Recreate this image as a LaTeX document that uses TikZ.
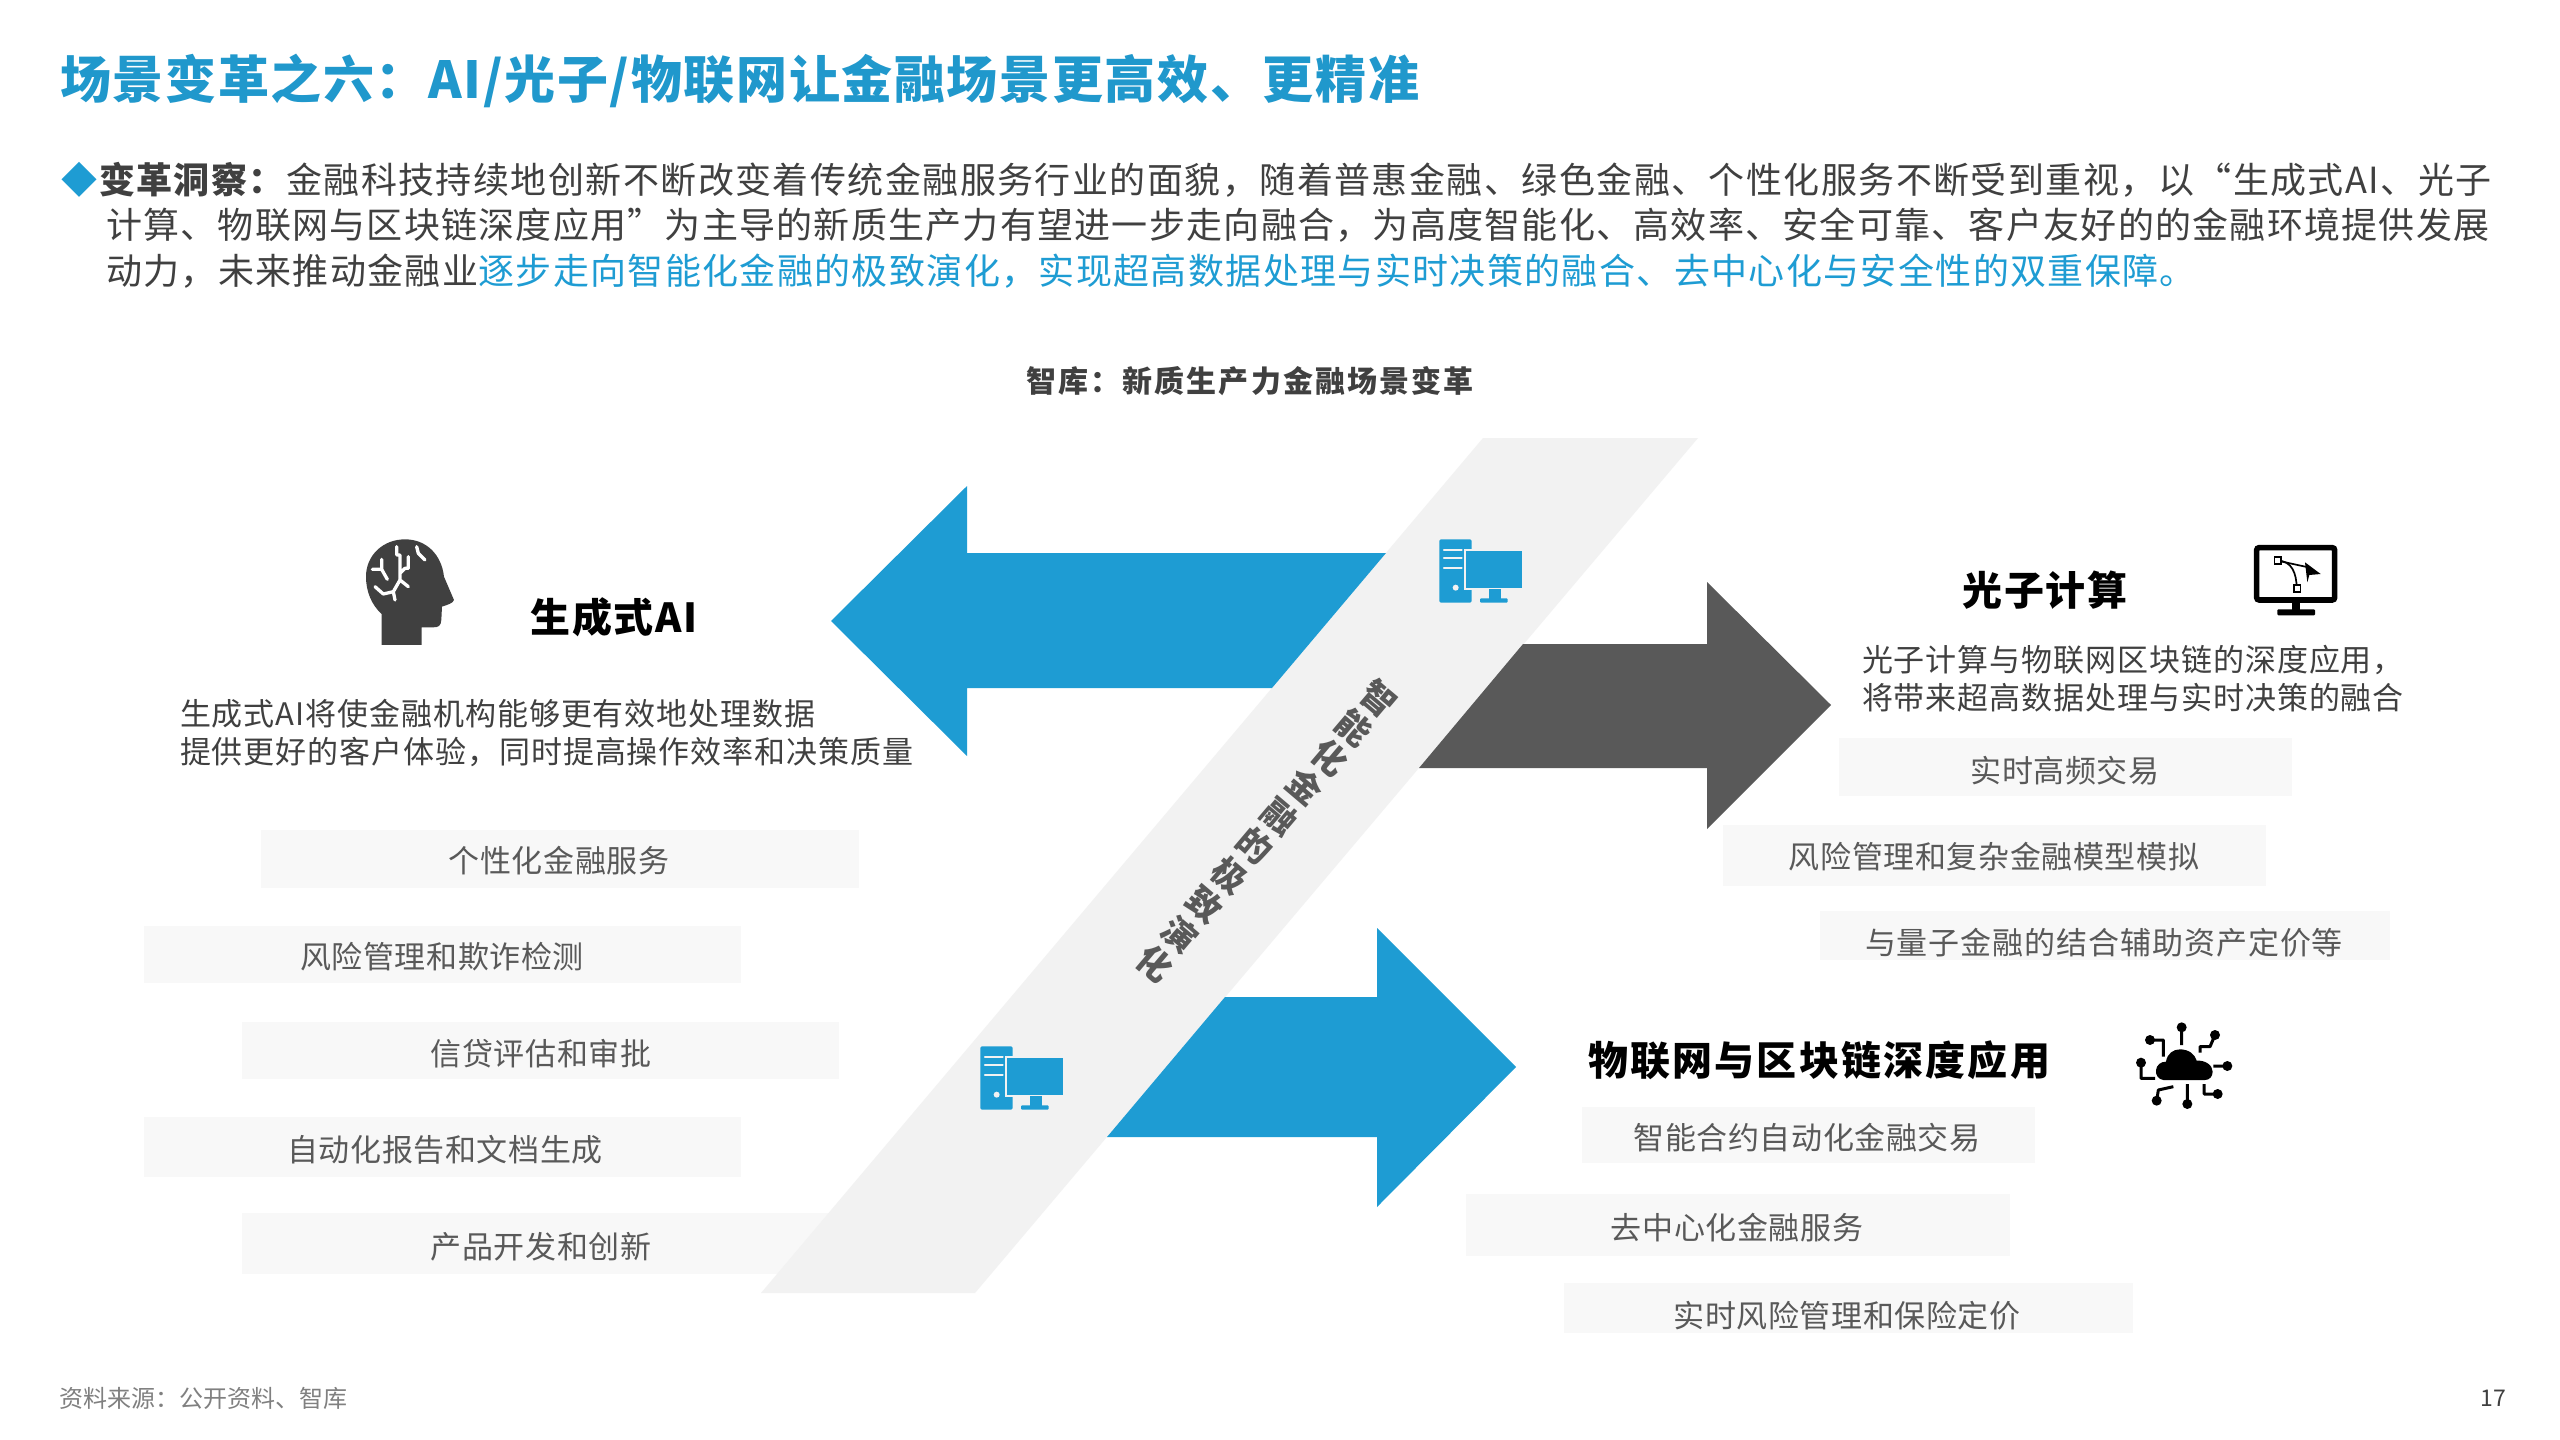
\documentclass[tikz,border=0pt]{standalone}
\usepackage{fontspec}
\setmainfont{Noto Sans CJK SC}
\definecolor{brandblue}{HTML}{1E9CD3}
\definecolor{titleblue}{HTML}{2098CC}
\definecolor{darkarrow}{HTML}{595959}
\definecolor{bandgrey}{HTML}{F2F2F2}
\definecolor{boxgrey}{HTML}{F8F8F8}
\definecolor{bodytext}{HTML}{404040}
\definecolor{itemtext}{HTML}{595959}
\definecolor{headicon}{HTML}{404040}
\newcommand{\fsz}[2]{\fontsize{#1}{#2}\selectfont}
\newcommand{\lsp}[1]{\addfontfeature{LetterSpace=#1}}
\tikzset{
  txt/.style={inner sep=0pt,outer sep=0pt,font=\fsz{31}{36}\lsp{2},text=itemtext,anchor=center},
  para/.style={txt,text=bodytext,anchor=west,font=\fsz{31}{36}\lsp{3}},
  lead/.style={inner sep=0pt,outer sep=0pt,anchor=west,text=bodytext},
  headg/.style={txt,text=black,font=\fsz{40}{46}\bfseries\lsp{4}},
  itembox/.style={fill=boxgrey,draw=none}
}
\newcommand{\compicon}{%
  \fill[brandblue,rounded corners=1.5pt] (58,58) rectangle (155,248);
  \draw[bandgrey,line width=2.2pt,line cap=round] (72,90) -- (125,90) (72,115) -- (125,115) (72,143) -- (125,143);
  \fill[bandgrey] (107,203) circle (9);
  \fill[brandblue,draw=bandgrey,line width=1.7pt] (134,90) rectangle (308,208);
  \fill[brandblue] (207,206) rectangle (243,236);
  \fill[brandblue,rounded corners=1pt] (180,235) rectangle (263,248);
}
\begin{document}
\begin{tikzpicture}[x=1pt,y=-1pt]
\useasboundingbox (0,0) rectangle (2560,1440);
\fill[white] (0,0) rectangle (2560,1440);

% title and lead
\node[inner sep=0pt,anchor=west,text=titleblue,font=\fsz{51}{60}\bfseries\lsp{3.2}] (title) at (60,81) {场景变革之六：AI/光子/物联网让金融场景更高效、更精准};
\node[inner sep=0pt,text=brandblue,font=\fsz{36}{42}] (bullet) at (79,180) {◆};
\node[lead,font=\fsz{36}{42}\lsp{4}] (l1) at (99,180) {\textbf{变革洞察：}金融科技持续地创新不断改变着传统金融服务行业的面貌，随着普惠金融、绿色金融、个性化服务不断受到重视，以“生成式AI、光子};
\node[lead,font=\fsz{36}{42}\lsp{3.5}] (l2) at (106,225) {计算、物联网与区块链深度应用”为主导的新质生产力有望进一步走向融合，为高度智能化、高效率、安全可靠、客户友好的的金融环境提供发展};
\node[lead,font=\fsz{36}{42}\lsp{3.8}] (l3) at (106,271) {动力，未来推动金融业\textcolor{brandblue}{逐步走向智能化金融的极致演化，实现超高数据处理与实时决策的融合、去中心化与安全性的双重保障。}};
\node[inner sep=0pt,text=bodytext,font=\fsz{30}{36}\bfseries\lsp{7}] (sub) at (1250,381) {智库：新质生产力金融场景变革};

% item boxes
\fill[itembox] (261,830) rectangle (859,888);
\fill[itembox] (144,926) rectangle (741,983);
\fill[itembox] (242,1022) rectangle (839,1079);
\fill[itembox] (144,1117) rectangle (741,1177);
\fill[itembox] (242,1213) rectangle (839,1274);
\fill[itembox] (1839,738) rectangle (2292,796);
\fill[itembox] (1723,825) rectangle (2266,886);
\fill[itembox] (1820,911) rectangle (2390,960);
\fill[itembox] (1582,1107) rectangle (2035,1163);
\fill[itembox] (1466,1194) rectangle (2010,1256);
\fill[itembox] (1564,1283) rectangle (2133,1333);

% band and arrows
\fill[bandgrey] (1483,438) -- (1698,438) -- (975,1293) -- (761,1293) -- cycle;
\fill[brandblue] (831,621) -- (967,486) -- (967,553) -- (1386,553) -- (1272,688) -- (967,688) -- (967,756) -- cycle;
\fill[darkarrow] (1831,705) -- (1707,582) -- (1707,644) -- (1523,644) -- (1419,768) -- (1707,768) -- (1707,829) -- cycle;
\fill[brandblue] (1516,1067) -- (1377,928) -- (1377,997) -- (1225,997) -- (1107,1137) -- (1377,1137) -- (1377,1207) -- cycle;

% band label
\node[inner sep=0pt,rotate=-40.3,align=center,text=darkarrow,font=\fsz{34}{38.6}\bfseries] (bandtxt) at (1267,831) {智\\能\\化\\金\\融\\的\\极\\致\\演\\化};

% computer icons
\begin{scope}[shift={(1420,520)},x=.3333pt,y=-.3333pt]\compicon\end{scope}
\begin{scope}[shift={(961,1027)},x=.3333pt,y=-.3333pt]\compicon\end{scope}

% head icon
\begin{scope}[shift={(340,520)},x=.3333pt,y=-.3333pt]
\fill[headicon] (125,375) -- (125,282) .. controls (95,255) and (78,215) .. (78,170)
  .. controls (78,105) and (130,58) .. (195,58)
  .. controls (260,58) and (305,105) .. (312,170)
  -- (342,240) .. controls (340,250) and (320,255) .. (306,260)
  -- (304,300) .. controls (303,318) and (295,322) .. (280,322) -- (245,322) -- (245,375) -- cycle;
\draw[white,line width=3.3pt,line cap=round,line join=round]
  (97,148) -- (125,148) -- (125,118) (125,148) -- (142,178)
  (170,80) -- (170,105) -- (180,105) -- (180,160) -- (195,145) -- (205,145) -- (205,110)
  (180,160) -- (180,180) -- (205,200) (180,180) -- (160,215) -- (165,240)
  (160,215) -- (130,222) -- (105,200)
  (230,80) -- (235,100) -- (255,120);
\end{scope}

% monitor icon
\begin{scope}[shift={(2250,530)},x=.3333pt,y=-.3333pt]
\draw[black,line width=5.6pt,rounded corners=2.5pt] (20,53) rectangle (254,210);
\fill[black] (125,215) rectangle (150,242);
\fill[black,rounded corners=1pt] (82,238) rectangle (195,256);
\draw[black,line width=1.7pt] (83,92) .. controls (125,92) and (140,130) .. (140,175);
\draw[black,line width=1.7pt] (83,92) -- (175,112);
\fill[black] (165,97) -- (212,132) -- (178,135) -- (172,157) -- cycle;
\draw[black,line width=1.7pt,fill=white] (73,82) rectangle (93,102);
\draw[black,line width=1.7pt,fill=white] (131,165) rectangle (151,185);
\end{scope}

% cloud icon
\begin{scope}[shift={(2130,1010)},x=.3333pt,y=-.3333pt]
\fill[black] (100,210) .. controls (85,208) and (76,195) .. (78,180)
  .. controls (80,165) and (92,155) .. (108,155)
  .. controls (112,130) and (130,118) .. (150,118)
  .. controls (175,118) and (195,132) .. (200,152)
  .. controls (225,150) and (248,165) .. (248,185)
  .. controls (248,200) and (238,210) .. (225,210) -- cycle;
\draw[black,line width=3pt,line join=round]
  (155,52) -- (155,105)
  (60,90) -- (100,90) -- (100,140)
  (255,75) -- (240,110) -- (210,110) -- (210,128)
  (292,168) -- (250,168)
  (33,158) -- (33,205) -- (75,205)
  (80,272) -- (85,240) -- (130,230)
  (172,282) -- (172,222)
  (263,252) -- (222,252) -- (222,222);
\fill[black] (155,52) circle (15) (60,90) circle (15) (255,75) circle (15) (292,168) circle (15)
  (33,158) circle (15) (80,272) circle (15) (172,282) circle (15) (263,252) circle (15);
\end{scope}

% headings
\node[headg] (h1) at (614,617) {生成式AI};
\node[headg] (h2) at (2045,590) {光子计算};
\node[headg,font=\fsz{40}{46}\bfseries\lsp{5.5}] (h3) at (1819,1060) {物联网与区块链深度应用};

% paragraphs
\node[para] (p1a) at (180,714) {生成式AI将使金融机构能够更有效地处理数据};
\node[para] (p1b) at (180,752) {提供更好的客户体验，同时提高操作效率和决策质量};
\node[para] (p2a) at (1862,660) {光子计算与物联网区块链的深度应用，};
\node[para] (p2b) at (1862,698) {将带来超高数据处理与实时决策的融合};

% items
\node[txt] (a1) at (559,861) {个性化金融服务};
\node[txt] (a2) at (442,957) {风险管理和欺诈检测};
\node[txt] (a3) at (541,1054) {信贷评估和审批};
\node[txt] (a4) at (445,1150) {自动化报告和文档生成};
\node[txt] (a5) at (541,1247) {产品开发和创新};
\node[txt] (b1) at (2065,771) {实时高频交易};
\node[txt] (b2) at (1994,857) {风险管理和复杂金融模型模拟};
\node[txt,font=\fsz{31}{36}\lsp{3}] (b3) at (2104,943) {与量子金融的结合辅助资产定价等};
\node[txt] (c1) at (1807,1138) {智能合约自动化金融交易};
\node[txt] (c2) at (1737,1228) {去中心化金融服务};
\node[txt] (c3) at (1847,1316) {实时风险管理和保险定价};

% footer
\node[inner sep=0pt,anchor=west,text=gray,font=\fsz{24}{28}] (src) at (59,1398) {资料来源：公开资料、智库};
\node[inner sep=0pt,text=bodytext,font=\fsz{23}{28}] (pg) at (2493,1398) {17};
\end{tikzpicture}
\end{document}
